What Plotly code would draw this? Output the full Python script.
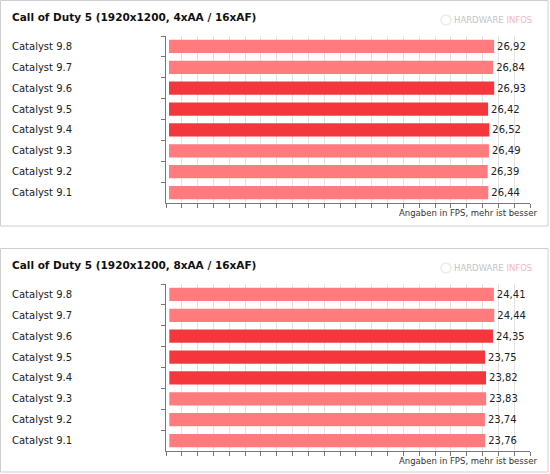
import plotly.graph_objects as go

W, H = 550, 474

drivers = ["Catalyst 9.8", "Catalyst 9.7", "Catalyst 9.6", "Catalyst 9.5",
           "Catalyst 9.4", "Catalyst 9.3", "Catalyst 9.2", "Catalyst 9.1"]
fps_4xaa = [26.92, 26.84, 26.93, 26.42, 26.52, 26.49, 26.39, 26.44]
fps_8xaa = [24.41, 24.44, 24.35, 23.75, 23.82, 23.83, 23.74, 23.76]
highlight = [False, False, True, True, True, False, False, False]
titles = ["Call of Duty 5 (1920x1200, 4xAA / 16xAF)",
          "Call of Duty 5 (1920x1200, 8xAA / 16xAF)"]
note = "Angaben in FPS, mehr ist besser"

LIGHT = "#ff7b7e"
DARK = "#f3373d"
colors = [DARK if h else LIGHT for h in highlight]

def py(px):
  # pixel row -> paper y
  return 1 - px / H

def px_x(px):
  return px / W

fig = go.Figure()

panels = [
  # (values, axis suffix, panel top px, panel bottom px)
  (fps_4xaa, "", 0, 226),
  (fps_8xaa, "2", 248, 472),
]

shapes = []
annotations = []
for i, (vals, ax, top, bot) in enumerate(panels):
  fig.add_trace(go.Bar(
    x=vals, y=drivers, orientation="h",
    marker=dict(color=colors, line=dict(width=0)),
    texttemplate="%{x:.2f}", textposition="outside",
    textfont=dict(family="DejaVu Sans", size=10, color="#222"),
    cliponaxis=False,
    xaxis="x" + ax, yaxis="y" + ax,
    hoverinfo="skip",
  ))
  lo = -0.25
  hi = max(vals) * 1.11
  xa = dict(
    domain=[px_x(166), px_x(530)], range=[lo, hi],
    showgrid=True, gridcolor="#e2e2e2", gridwidth=1,
    tick0=lo, dtick=(hi - lo) / 23,
    ticks="outside", ticklen=4, tickcolor="#777",
    showticklabels=False, showline=True, linecolor="#777",
    zeroline=False, fixedrange=True,
    anchor="y" + ax,
  )
  ya = dict(
    domain=[py(top + 203), py(top + 36)],
    autorange="reversed", showticklabels=False,
    ticks="outside", ticklen=4, tickcolor="#777", tickson="boundaries",
    showline=True, linecolor="#777", showgrid=False,
    fixedrange=True, anchor="x" + ax,
  )
  fig.update_layout(**{"xaxis" + ax: xa, "yaxis" + ax: ya})
  for d in drivers:
    annotations.append(dict(
      x=px_x(10), y=d, xref="paper", yref="y" + ax,
      text=d, showarrow=False, xanchor="left",
      font=dict(family="DejaVu Sans", size=10, color="#222"),
    ))
  annotations.append(dict(
    x=px_x(10), y=py(top + 17), xref="paper", yref="paper",
    text="<b>" + titles[i] + "</b>", showarrow=False,
    xanchor="left", yanchor="middle",
    font=dict(family="DejaVu Sans", size=10.5, color="#111"),
  ))
  annotations.append(dict(
    x=px_x(539), y=py(top + 213), xref="paper", yref="paper",
    text=note, showarrow=False, xanchor="right", yanchor="middle",
    font=dict(family="DejaVu Sans", size=8.5, color="#333"),
  ))
  annotations.append(dict(
    x=px_x(534), y=py(top + 20), xref="paper", yref="paper",
    text="<span style='color:#c4c4c4'>HARDWARE</span> "
         "<span style='color:#f2b9b9'>INFOS</span>",
    showarrow=False, xanchor="right", yanchor="middle",
    font=dict(family="DejaVu Sans", size=8.5),
  ))
  shapes.append(dict(
    type="rect", xref="paper", yref="paper",
    x0=px_x(0.5), x1=px_x(548), y0=py(bot), y1=py(top + 0.5),
    line=dict(color="#cfcfcf", width=1), layer="below",
  ))
  shapes.append(dict(
    type="circle", xref="paper", yref="paper",
    x0=px_x(441), x1=px_x(451), y0=py(top + 25), y1=py(top + 15),
    line=dict(color="#ececec", width=1.5), fillcolor="#ffffff",
  ))

fig.update_layout(
  width=W, height=H,
  margin=dict(l=0, r=0, t=0, b=0),
  paper_bgcolor="white", plot_bgcolor="white",
  showlegend=False, bargap=0.36,
  separators=",.",
  shapes=shapes, annotations=annotations,
)

# drop the browser's default body margin so the figure sits at 0,0
fig.write_html("out.html", config={"displayModeBar": False},
               post_script="document.body.style.margin='0';")
